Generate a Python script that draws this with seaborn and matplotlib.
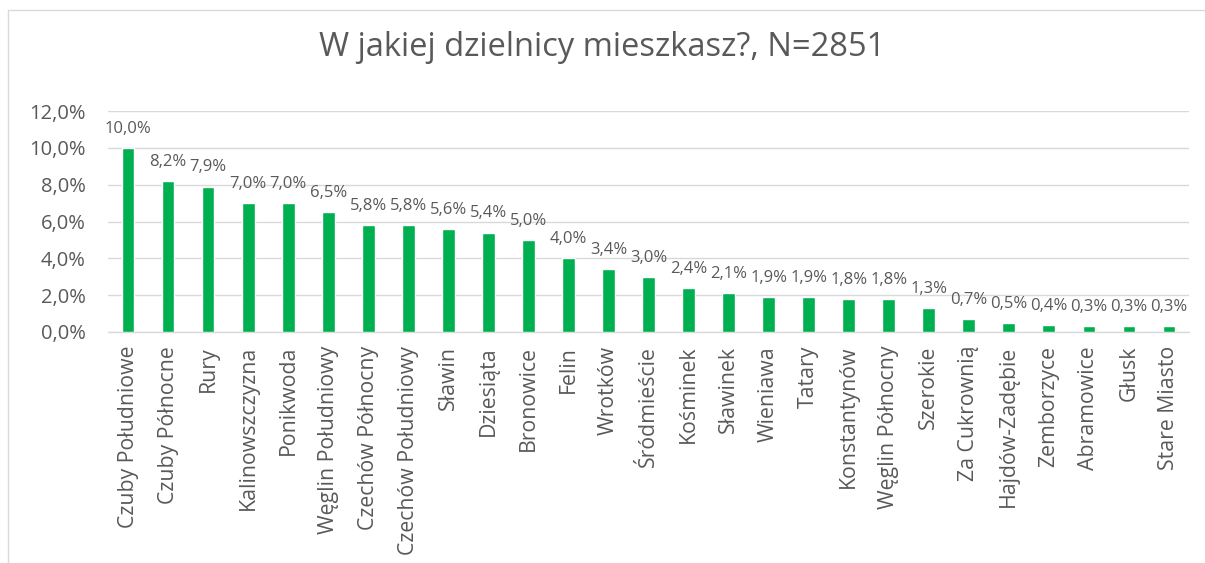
import matplotlib
matplotlib.use("Agg")
import matplotlib.pyplot as plt
import matplotlib.patches as mpatches
import pandas as pd
import seaborn as sns

districts = ["Czuby Południowe", "Czuby Północne", "Rury", "Kalinowszczyzna",
             "Ponikwoda", "Węglin Południowy", "Czechów Północny",
             "Czechów Południowy", "Sławin", "Dziesiąta", "Bronowice", "Felin",
             "Wrotków", "Śródmieście", "Kośminek", "Sławinek", "Wieniawa",
             "Tatary", "Konstantynów", "Węglin Północny", "Szerokie",
             "Za Cukrownią", "Hajdów-Zadębie", "Zemborzyce", "Abramowice",
             "Głusk", "Stare Miasto"]
shares = [10.0, 8.2, 7.9, 7.0, 7.0, 6.5, 5.8, 5.8, 5.6, 5.4, 5.0, 4.0, 3.4, 3.0,
          2.4, 2.1, 1.9, 1.9, 1.8, 1.8, 1.3, 0.7, 0.5, 0.4, 0.3, 0.3, 0.3]
y_ticks = [0, 2, 4, 6, 8, 10, 12]
title = "W jakiej dzielnicy mieszkasz?, N=2851"

text_col = "#595959"
grid_col = "#d9d9d9"
bar_col = "#00b050"

sns.set_style("white")
plt.rcParams["font.family"] = ["Open Sans", "DejaVu Sans"]

df = pd.DataFrame({"district": districts, "share": shares})

fig = plt.figure(figsize=(12.05, 5.63), dpi=100)
ax = fig.add_axes([108 / 1205, 1 - 332 / 563, (1189 - 108) / 1205, (332 - 111) / 563])

sns.barplot(data=df, x="district", y="share", color=bar_col, width=0.32,
            saturation=1, ax=ax, zorder=3)

ax.set_ylim(0, 12)
ax.set_yticks(y_ticks)
ax.set_yticklabels([f"{v:.1f}%".replace(".", ",") for v in y_ticks],
                   fontsize=14.5, color=text_col)
ax.set_xticks(range(len(districts)))
ax.set_xticklabels(districts, rotation=90, fontsize=15.3, color=text_col)
ax.tick_params(axis="y", length=0, pad=16)
ax.tick_params(axis="x", length=0, pad=10)
ax.set_xlim(-0.5, len(districts) - 0.5)
ax.set_xlabel("")
ax.set_ylabel("")
ax.grid(axis="y", color=grid_col, linewidth=1, zorder=0)
for s in ["top", "right", "left"]:
    ax.spines[s].set_visible(False)
ax.spines["bottom"].set_color(grid_col)
ax.spines["bottom"].set_linewidth(1)

for i, v in enumerate(shares):
    ax.annotate(f"{v:.1f}%".replace(".", ","), (i, v), xytext=(0, 8),
                textcoords="offset points", ha="center", va="bottom",
                fontsize=12, color=text_col)

fig.text(0.5, 1 - 47 / 563, title, ha="center", va="center",
         fontsize=23.5, color=text_col)

# chart border
fig.patches.append(mpatches.Rectangle((8 / 1205, -0.1), 1.2, 1 - 10 / 563 + 0.1,
                                      transform=fig.transFigure, fill=False,
                                      edgecolor=grid_col, linewidth=1))

fig.savefig("out.png", dpi=100)
